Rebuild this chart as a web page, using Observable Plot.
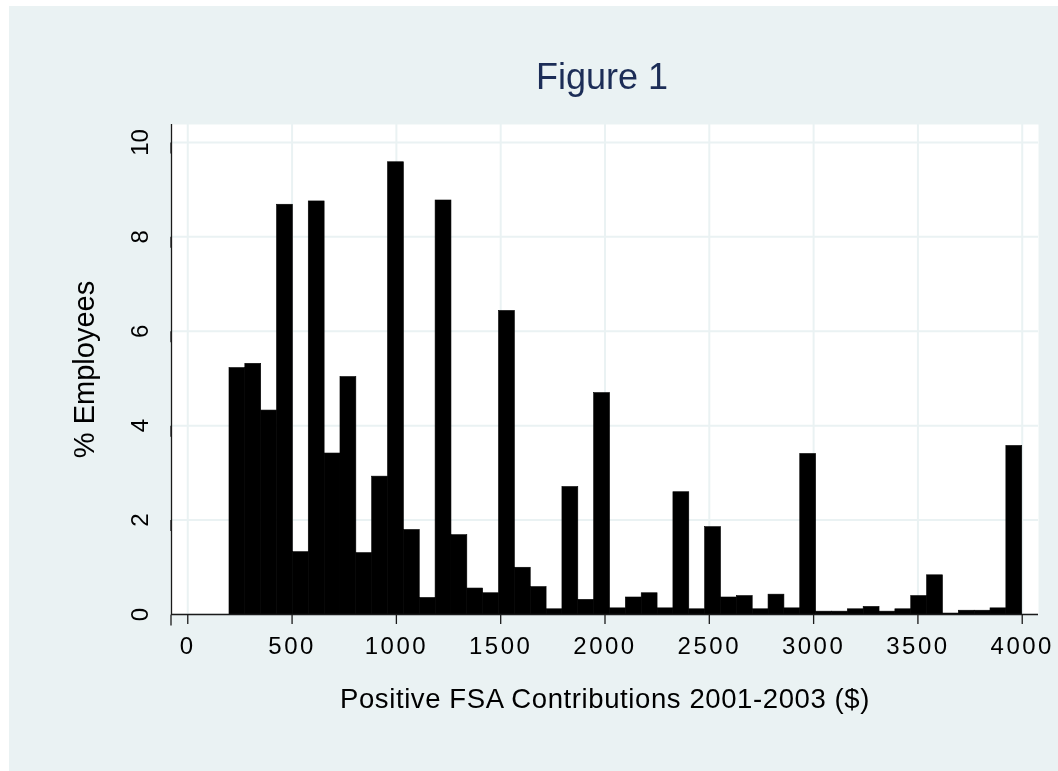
<!DOCTYPE html>
<html>
<head>
<meta charset="utf-8">
<script src="https://cdn.jsdelivr.net/npm/d3@7"></script>
<script src="https://cdn.jsdelivr.net/npm/@observablehq/plot@0.6"></script>
<style>
  html, body { margin: 0; padding: 0; background: #EAF2F3; overflow: hidden; }
  #stripTop { position: fixed; left: 0; top: 0; width: 100vw; height: 6px; background: #fff; }
  #stripLeft { position: fixed; left: 0; top: 0; width: 9px; height: 100vh; background: #fff; }
  #wrap { position: absolute; left: 0; top: 0; width: 1058px; height: 771px; font-family: "Liberation Sans", Arial, sans-serif; }
  #chart { position: absolute; left: 0; top: 0; width: 1058px; height: 771px; }
  #chart svg { display: block; }
  .lbl { position: absolute; white-space: nowrap; text-align: center; line-height: 1; }
  #title { left: 102px; width: 1000px; top: 59px; font-size: 36px; color: #1c2d57; }
  #xtitle { left: 105px; width: 1000px; top: 685px; font-size: 27.5px; letter-spacing: 0.6px; color: #000; }
  #ytitle { left: -116px; top: 355px; width: 400px; height: 29px; font-size: 29px; color: #000; transform: rotate(-90deg); transform-origin: 50% 50%; }
  .fig g[aria-label="x-axis tick label"] text { letter-spacing: 2.5px; }
</style>
</head>
<body>
<div id="stripTop"></div>
<div id="stripLeft"></div>
<div id="wrap">
  <div id="chart"></div>
  <div class="lbl" id="title">Figure 1</div>
  <div class="lbl" id="xtitle">Positive FSA Contributions 2001-2003 ($)</div>
  <div class="lbl" id="ytitle">% Employees</div>
</div>
<script>
// Histogram bins (lower edge, upper edge) in $ and % of employees
const binLower = [200,276,352,428,504,580,656,732,808,884,960,1036,1112,1188,1264,1340,1416,1492,1568,1644,
                  1720,1796,1872,1948,2024,2100,2176,2252,2328,2404,2480,2556,2632,2708,2784,2860,2936,3012,3088,3164,
                  3240,3316,3392,3468,3544,3620,3696,3772,3848,3924];
const binUpper = [276,352,428,504,580,656,732,808,884,960,1036,1112,1188,1264,1340,1416,1492,1568,1644,1720,
                  1796,1872,1948,2024,2100,2176,2252,2328,2404,2480,2556,2632,2708,2784,2860,2936,3012,3088,3164,3240,
                  3316,3392,3468,3544,3620,3696,3772,3848,3924,4000];
const pctEmployees = [5.22,5.31,4.32,8.68,1.32,8.75,3.41,5.03,1.30,2.92,
                      9.58,1.79,0.35,8.77,1.68,0.55,0.45,6.43,0.99,0.58,
                      0.11,2.70,0.31,4.69,0.13,0.36,0.45,0.13,2.59,0.11,
                      1.85,0.36,0.39,0.11,0.42,0.13,3.40,0.06,0.06,0.11,
                      0.16,0.06,0.11,0.39,0.83,0.02,0.08,0.08,0.13,3.57];
const xTicks = [0,500,1000,1500,2000,2500,3000,3500,4000];
const yTicks = [0,2,4,6,8,10];
const xDomain = [-78, 4078];
const yDomain = [0, 10.38];

const bars = binLower.map((lo, i) => ({x1: lo, x2: binUpper[i], pct: pctEmployees[i]}));

const chart = Plot.plot({
  width: 1058,
  height: 771,
  marginLeft: 171,
  marginRight: 20,
  marginTop: 124,
  marginBottom: 157,
  className: "fig",
  style: {background: "transparent", fontFamily: "'Liberation Sans', Arial, sans-serif", color: "#000", overflow: "visible"},
  x: {domain: xDomain},
  y: {domain: yDomain},
  marks: [
    Plot.frame({fill: "white", stroke: "none"}),
    Plot.gridX(xTicks, {stroke: "#EAF2F3", strokeOpacity: 1, strokeWidth: 2}),
    Plot.gridY(yTicks, {stroke: "#EAF2F3", strokeOpacity: 1, strokeWidth: 2}),
    Plot.rectY(bars, {x1: "x1", x2: "x2", y: "pct", fill: "#000", stroke: "#000", strokeWidth: 0.6}),
    Plot.ruleY([0], {stroke: "#1a1a1a", strokeWidth: 1.3}),
    Plot.ruleX([xDomain[0]], {stroke: "#1a1a1a", strokeWidth: 1.3}),
    Plot.axisX(xTicks, {tickSize: 10, tickPadding: 12, fontSize: 24, tickFormat: "d", label: null, stroke: "#1a1a1a", strokeWidth: 1.3}),
    Plot.axisY(yTicks, {tickSize: 11, tickPadding: 20, fontSize: 24, tickFormat: "d", rotate: -90, textAnchor: "middle", label: null, stroke: "#1a1a1a", strokeWidth: 1.3})
  ]
});
document.getElementById("chart").appendChild(chart);
</script>
</body>
</html>
